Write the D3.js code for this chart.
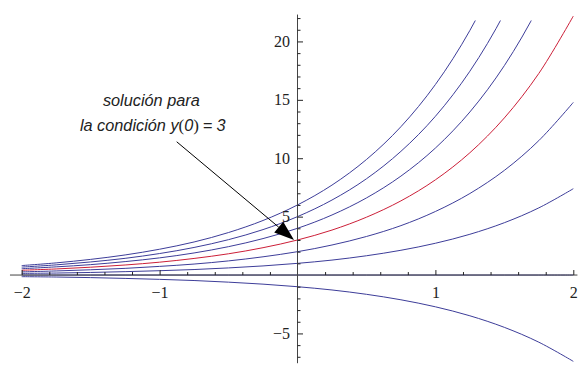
<!DOCTYPE html>
<html>
<head>
<meta charset="utf-8">
<script src="https://cdn.jsdelivr.net/npm/d3@7"></script>
<style>
  html, body { margin: 0; padding: 0; background: #fff; }
  svg { display: block; }
</style>
</head>
<body>
<svg id="chart" width="578" height="365"></svg>
<script>
// x sample positions
const xs = [-2, -1.75, -1.5, -1.25, -1, -0.75, -0.5, -0.25, 0, 0.25, 0.5, 0.75, 1, 1.25, 1.5, 1.75, 2];
// solution curves y = C e^x, values at xs
const curveCm1 = [-0.14,-0.17,-0.22,-0.29,-0.37,-0.47,-0.61,-0.78,-1,-1.28,-1.65,-2.12,-2.72,-3.49,-4.48,-5.75,-7.39];
const curveC0  = [0,0,0,0,0,0,0,0,0,0,0,0,0,0,0,0,0];
const curveC1  = [0.14,0.17,0.22,0.29,0.37,0.47,0.61,0.78,1,1.28,1.65,2.12,2.72,3.49,4.48,5.75,7.39];
const curveC2  = [0.27,0.35,0.45,0.57,0.74,0.94,1.21,1.56,2,2.57,3.30,4.23,5.44,6.98,8.96,11.51,14.78];
const curveC3  = [0.41,0.52,0.67,0.86,1.10,1.42,1.82,2.34,3,3.85,4.95,6.35,8.15,10.47,13.45,17.26,22.17];
const curveC4  = [0.54,0.70,0.89,1.15,1.47,1.89,2.43,3.12,4,5.14,6.60,8.47,10.87,13.96,17.93,23.02,29.56];
const curveC5  = [0.68,0.87,1.12,1.43,1.84,2.36,3.03,3.89,5,6.42,8.24,10.59,13.59,17.45,22.41,28.77,36.95];
const curveC6  = [0.81,1.04,1.34,1.72,2.21,2.83,3.64,4.67,6,7.70,9.89,12.70,16.31,20.94,26.89,34.53,44.33];
const blueCurves = [curveC0, curveCm1, curveC1, curveC2, curveC4, curveC5, curveC6];
const redCurve = curveC3;
const blueClipMax = 21.8;

const xMajorTicks = [-2, -1, 1, 2];
const xMinorTicks = d3.range(-20, 21, 2).map(d => d / 10).filter(d => !Number.isInteger(d));
const yMajorTicks = [-5, 5, 10, 15, 20];
const yMinorTicks = d3.range(-7, 23).filter(d => d % 5 !== 0);

const SERIF = "Liberation Serif";
const SANS = "Liberation Sans";

const svg = d3.select("#chart");
const x = d3.scaleLinear().domain([-2, 2]).range([21.7, 573.3]);
const y = d3.scaleLinear().domain([-7.6, 22.4]).range([363.8, 13.4]);

const line = d3.line()
  .x((d, i) => x(xs[i]))
  .y(d => y(d))
  .curve(d3.curveCatmullRom.alpha(0.5));

svg.append("defs").append("clipPath").attr("id", "blueclip")
  .append("rect")
  .attr("x", 0).attr("y", y(blueClipMax))
  .attr("width", 578).attr("height", 365 - y(blueClipMax));

const blue = "#3d3d99";
const red = "#cc1f38";

svg.append("g").attr("clip-path", "url(#blueclip)")
  .selectAll("path").data(blueCurves).join("path")
  .attr("d", d => line(d))
  .attr("fill", "none")
  .attr("stroke", blue)
  .attr("stroke-width", 1);

svg.append("path")
  .attr("d", line(redCurve))
  .attr("fill", "none")
  .attr("stroke", red)
  .attr("stroke-width", 1);

// axes
const axisColor = "#444";

// x axis
const gx = svg.append("g").attr("transform", `translate(0,${y(0)})`);
gx.append("line")
  .attr("x1", x(-2.085)).attr("x2", x(2.03))
  .attr("y1", 0).attr("y2", 0)
  .attr("stroke", axisColor).attr("stroke-width", 1);
const xMajor = d3.axisBottom(x).tickValues(xMajorTicks).tickSizeInner(-5).tickSizeOuter(0)
  .tickPadding(11.8).tickFormat(d3.format("d"));
gx.append("g").call(xMajor).attr("font-family", SERIF).attr("font-size", 16);
const xMinor = d3.axisBottom(x).tickValues(xMinorTicks).tickSizeInner(-3).tickSizeOuter(0).tickFormat("");
gx.append("g").call(xMinor);

// y axis
const gy = svg.append("g").attr("transform", `translate(${x(0)},0)`);
gy.append("line")
  .attr("x1", 0).attr("x2", 0)
  .attr("y1", y(22.3)).attr("y2", y(-7.55))
  .attr("stroke", axisColor).attr("stroke-width", 1);
const yMajor = d3.axisLeft(y).tickValues(yMajorTicks).tickSizeInner(-5.5).tickSizeOuter(0)
  .tickPadding(7.5).tickFormat(d3.format("d"));
gy.append("g").call(yMajor).attr("font-family", SERIF).attr("font-size", 16);
const yMinor = d3.axisLeft(y).tickValues(yMinorTicks).tickSizeInner(-3).tickSizeOuter(0).tickFormat("");
gy.append("g").call(yMinor);

svg.selectAll(".domain").remove();
svg.selectAll(".tick line").attr("stroke", "#222");
svg.selectAll(".tick text")
  .attr("font-family", SERIF)
  .attr("font-size", 16)
  .attr("fill", "#222");

// annotation
const annot = svg.append("g")
  .attr("font-family", SANS)
  .attr("font-size", 16.3)
  .attr("fill", "#222");
annot.append("text")
  .attr("x", x(-1.411)).attr("y", y(14.5))
  .attr("font-style", "italic")
  .text("solución para");
const t2 = annot.append("text").attr("x", x(-1.578)).attr("y", y(12.33));
t2.append("tspan").attr("font-style", "italic").text("la condición y");
t2.append("tspan").attr("font-family", SERIF).attr("font-size", 17).text("(");
t2.append("tspan").attr("font-style", "italic").text("0");
t2.append("tspan").attr("font-family", SERIF).attr("font-size", 17).text(")");
t2.append("tspan").attr("dx", 4).text("=");
t2.append("tspan").attr("dx", 4).attr("font-style", "italic").text("3");

// arrow
const tail = [x(-0.876), y(11.41)];
const tip = [x(-0.025), y(3.0)];
const ang = Math.atan2(tip[1] - tail[1], tip[0] - tail[0]);
const headLen = 20, headHalf = 7;
const back = [tip[0] - headLen * Math.cos(ang), tip[1] - headLen * Math.sin(ang)];
svg.append("line")
  .attr("x1", tail[0]).attr("y1", tail[1])
  .attr("x2", back[0]).attr("y2", back[1])
  .attr("stroke", "#000").attr("stroke-width", 1);
const p1 = [back[0] + headHalf * Math.sin(ang), back[1] - headHalf * Math.cos(ang)];
const p2 = [back[0] - headHalf * Math.sin(ang), back[1] + headHalf * Math.cos(ang)];
svg.append("path")
  .attr("d", `M${tip[0]},${tip[1]}L${p1[0]},${p1[1]}L${p2[0]},${p2[1]}Z`)
  .attr("fill", "#000");
</script>
</body>
</html>
